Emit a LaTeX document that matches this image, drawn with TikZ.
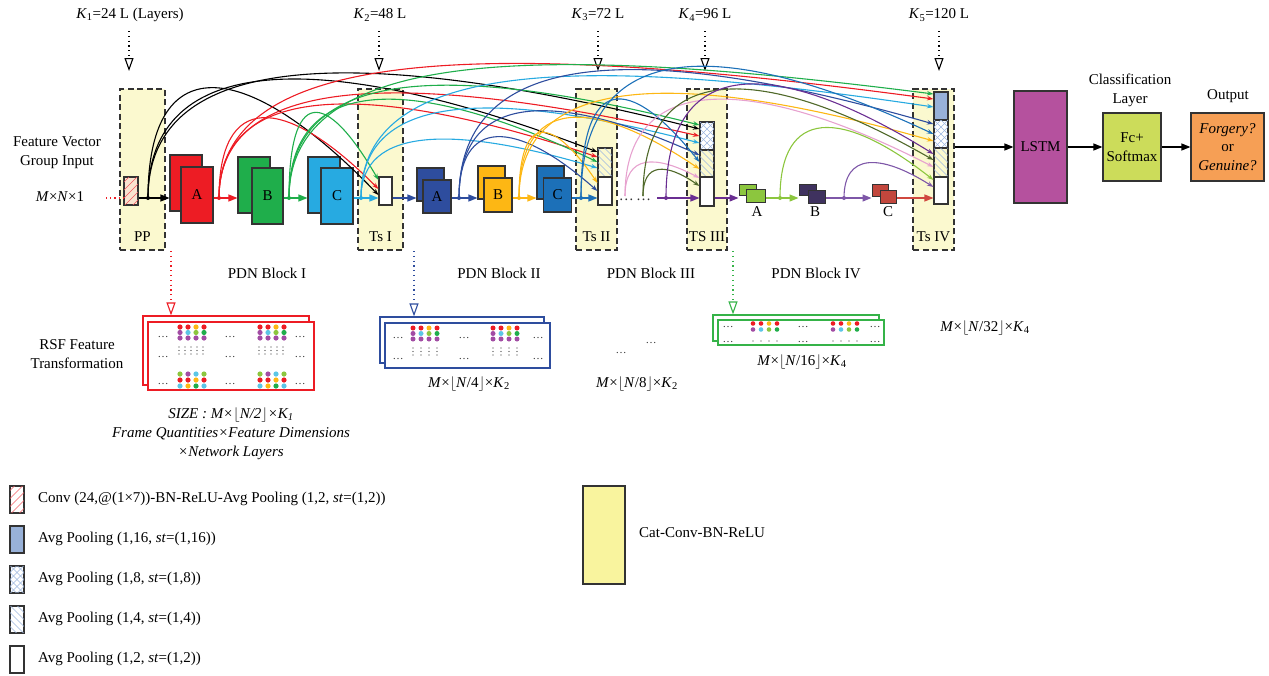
\documentclass[tikz,border=0pt]{standalone}
\usepackage{fontspec}
\setmainfont{Liberation Serif}
\usetikzlibrary{arrows.meta,calc}
\definecolor{cOut}{HTML}{333333}
\definecolor{cRed}{HTML}{ED1C24}
\definecolor{cGreen}{HTML}{1FAE4B}
\definecolor{cCyan}{HTML}{27AAE1}
\definecolor{cDBlue}{HTML}{2E4D9E}
\definecolor{cYel}{HTML}{FDB714}
\definecolor{cBlue}{HTML}{1C70B8}
\definecolor{cPurp}{HTML}{6A2E92}
\definecolor{cPink}{HTML}{E7A2CF}
\definecolor{cDGreen}{HTML}{50692A}
\definecolor{cLGreen}{HTML}{8CC63E}
\definecolor{cIVB}{HTML}{3F325F}
\definecolor{cIVC}{HTML}{C2473D}
\definecolor{cBrick}{HTML}{D0483F}
\definecolor{cLSTM}{HTML}{B5519E}
\definecolor{cFc}{HTML}{CCDC5A}
\definecolor{cOutp}{HTML}{F69F55}
\definecolor{cTs}{HTML}{FBF9CF}
\definecolor{cCat}{HTML}{F9F49E}
\definecolor{cP16}{HTML}{98B1D8}
\definecolor{cHatch}{HTML}{9DB7E0}
\definecolor{cDotP}{HTML}{A24CA4}
\definecolor{cDotC}{HTML}{5CC6E6}
\definecolor{cIVPurp}{HTML}{7E57A8}
\definecolor{cPPr}{HTML}{F9E3CF}
\newcounter{ed}
\newcommand{\edots}[2]{\stepcounter{ed}\node[edf] (ed\arabic{ed}) at (#1,#2) {…};}
\newcommand{\dcurve}[7]{%
  \pgfmathsetmacro{\dcH}{(#5-(198+#4)/8)/0.75}%
  \pgfmathsetmacro{\dcX}{#6+0.4*(#7-#6)}%
  \draw[skipc,#1] (#2) .. controls (#6,\dcH) and (\dcX,\dcH) .. (#3.west |- 0,#4);}
\newcommand{\hne}[2]{\begin{scope}\clip (#1.south west) rectangle (#1.north east);
  \foreach \k in {-48,-40,...,48}{\draw[#2,line width=0.6pt] ($(#1.center)+(\k-25,25)$) -- ++(50,-50);}\end{scope}
  \draw[cOut,line width=1.1pt] (#1.south west) rectangle (#1.north east);}
\newcommand{\hnw}[1]{\begin{scope}\clip (#1.south west) rectangle (#1.north east);
  \foreach \k in {-49,-42,...,49}{\draw[cHatch,line width=0.6pt] ($(#1.center)+(\k-25,-25)$) -- ++(50,50);}\end{scope}
  \draw[cOut,line width=1.1pt] (#1.south west) rectangle (#1.north east);}
\newcommand{\hx}[1]{\begin{scope}\clip (#1.south west) rectangle (#1.north east);
  \foreach \k in {-49,-42,...,49}{\draw[cHatch,line width=0.5pt] ($(#1.center)+(\k-25,-25)$) -- ++(50,50);
  \draw[cHatch,line width=0.5pt] ($(#1.center)+(\k-25,25)$) -- ++(50,-50);}\end{scope}
  \draw[cOut,line width=1.1pt] (#1.south west) rectangle (#1.north east);}
\newcommand{\drow}[7]{\fill[#4] (#1,#2) circle (#3pt);\fill[#5] ({#1+8},#2) circle (#3pt);
  \fill[#6] ({#1+16},#2) circle (#3pt);\fill[#7] ({#1+24},#2) circle (#3pt);}
\newcommand{\vcol}[2]{\foreach \j in {0,3.5,7}{\fill[cOut] (#1,{#2+\j}) circle (0.7pt);}}
\begin{document}
\begin{tikzpicture}[x=1pt,y=-1pt,
  every node/.style={inner sep=0pt},
  font=\fontsize{15}{19}\selectfont,
  edf/.style={font=\fontsize{11}{11}\selectfont, text=cOut},
  tsbox/.style={draw=cOut, fill=cTs, line width=1.2pt, dash pattern=on 6pt off 3.5pt, minimum height=161},
  blk/.style={draw=cOut, line width=1.1pt, minimum width=32, minimum height=56},
  sblk/.style={draw=cOut, line width=1pt},
  prect/.style={draw=cOut, line width=1.1pt, fill=white, minimum width=14, minimum height=28},
  bigbox/.style={draw=cOut, line width=1.2pt, align=center},
  fbox/.style={line width=1.2pt, fill=white},
  mainar/.style={line width=1.2pt, -{Triangle[length=9pt,width=7pt]}},
  skipc/.style={line width=1.1pt, -{Stealth[length=6.5pt,width=4.5pt]}},
  kar/.style={line width=1.2pt, dash pattern=on 1.2pt off 3.6pt, -{Triangle[open,length=13pt,width=9pt,line width=1.1pt]}},
  dropar/.style={line width=1.2pt, dash pattern=on 1.2pt off 3.6pt, -{Triangle[open,length=13pt,width=9pt,line width=1.1pt]}}]
\useasboundingbox (0,0) rectangle (1269,675);

% ---- top K labels
\node (k1) at (130,15) {\textit{K}\textsubscript{1}=24 L (Layers)};
\node (k2) at (380,15) {\textit{K}\textsubscript{2}=48 L};
\node (k3) at (598,15) {\textit{K}\textsubscript{3}=72 L};
\node (k4) at (705,15) {\textit{K}\textsubscript{4}=96 L};
\node (k5) at (939,15) {\textit{K}\textsubscript{5}=120 L};
\foreach \n/\x in {1/129,2/379,3/598,4/705,5/939}{
  \coordinate (k\n s) at (\x,31); \coordinate (k\n e) at (\x,71);
  \draw[kar] (k\n s) -- (k\n e);}

% ---- Ts boxes
\node[tsbox, minimum width=45] (pp) at (142.5,169.5) {};
\node[tsbox, minimum width=45] (ts1) at (380.5,169.5) {};
\node[tsbox, minimum width=41] (ts2) at (596.5,169.5) {};
\node[tsbox, minimum width=40] (ts3) at (707,169.5) {};
\node[tsbox, minimum width=41] (ts4) at (933.5,169.5) {};
\node (ppl) at (142.5,237) {PP};
\node (ts1l) at (380.5,237) {Ts I};
\node (ts2l) at (596.5,237) {Ts II};
\node (ts3l) at (707,237) {TS III};
\node (ts4l) at (933.5,237) {Ts IV};

% ---- blocks
\node[blk, fill=cRed] (IAb) at (186,183) {};
\node[blk, fill=cRed] (IAf) at (197,195) {A};
\node[blk, fill=cGreen] (IBb) at (254,185) {};
\node[blk, fill=cGreen, minimum width=31] (IBf) at (267.5,196) {B};
\node[blk, fill=cCyan] (ICb) at (324,185) {};
\node[blk, fill=cCyan] (ICf) at (337,196) {C};
\node[blk, fill=cDBlue, minimum width=27, minimum height=33] (IIAb) at (430.5,184.5) {};
\node[blk, fill=cDBlue, minimum width=28, minimum height=33] (IIAf) at (437,196.5) {A};
\node[blk, fill=cYel, minimum width=27, minimum height=33] (IIBb) at (491.5,182.5) {};
\node[blk, fill=cYel, minimum width=28, minimum height=34] (IIBf) at (498,195) {B};
\node[blk, fill=cBlue, minimum width=27, minimum height=33] (IICb) at (550.5,182.5) {};
\node[blk, fill=cBlue, minimum width=28, minimum height=34] (IICf) at (557.5,195) {C};
\node[sblk, fill=cLGreen, minimum width=17, minimum height=11] (IVAb) at (747.5,189.5) {};
\node[sblk, fill=cLGreen, minimum width=19, minimum height=13] (IVAf) at (755.5,195.5) {};
\node[sblk, fill=cIVB, minimum width=17, minimum height=11] (IVBb) at (807.5,189.5) {};
\node[sblk, fill=cIVB, minimum width=17, minimum height=13] (IVBf) at (816.5,196.5) {};
\node[sblk, fill=cIVC, minimum width=16, minimum height=12] (IVCb) at (880,190) {};
\node[sblk, fill=cIVC, minimum width=16, minimum height=13] (IVCf) at (888,196.5) {};
\node (IVAl) at (757,212) {A};
\node (IVBl) at (815,212) {B};
\node (IVCl) at (888,212) {C};

% ---- pooling rects
\node[prect, fill=cPPr] (ppr) at (131,191) {}; \hne{ppr}{cRed!75}
\node[prect, minimum width=13] (t1w) at (385.5,191) {};
\node[prect, fill=cTs, minimum height=29] (t2h) at (605,162.5) {}; \hnw{t2h}
\node[prect] (t2w) at (605,191) {};
\node[prect] (t3c) at (707,136) {}; \hx{t3c}
\node[prect, fill=cTs, minimum height=27] (t3h) at (707,163.5) {}; \hnw{t3h}
\node[prect, minimum height=29] (t3w) at (707,191.5) {};
\node[prect, fill=cP16] (t4a) at (941,106) {};
\node[prect] (t4c) at (941,134) {}; \hx{t4c}
\node[prect, fill=cTs, minimum height=29] (t4h) at (941,162.5) {}; \hnw{t4h}
\node[prect, minimum height=27] (t4w) at (941,190.5) {};

% ---- right part
\node[bigbox, fill=cLSTM, minimum width=53, minimum height=112] (LSTM) at (1040.5,147) {LSTM};
\node[bigbox, fill=cFc, minimum width=58, minimum height=68] (Fc) at (1132,147) {Fc+\\Softmax};
\node[bigbox, fill=cOutp, minimum width=73, minimum height=68, font=\fontsize{15}{18.5}\selectfont] (Outp) at (1227.5,147) {\textit{Forgery?}\\or\\\textit{Genuine?}};
\node[align=center] (clsl) at (1130,90.5) {Classification\\Layer};
\node (outl) at (1228,96) {Output};

% ---- left labels
\node[align=center] (fvl) at (57,153) {Feature Vector\\Group Input};
\node (mn1) at (60,197) {\textit{M}×\textit{N}×1};

% ---- main line
\coordinate (y198) at (0,198);
\coordinate (inp) at (106,198);
\draw[cRed, line width=1.2pt, dash pattern=on 1.2pt off 3pt] (inp) -- (ppr.west |- y198);
\draw[mainar] (ppr.east |- y198) -- (IAb.west |- y198);
\draw[mainar, cRed] (IAf.east |- y198) -- (IBb.west |- y198);
\draw[mainar, cGreen] (IBf.east |- y198) -- (ICb.west |- y198);
\draw[mainar, cCyan] (ICf.east |- y198) -- (t1w.west |- y198);
\draw[mainar, cDBlue] (t1w.east |- y198) -- (IIAb.west |- y198);
\draw[mainar, cDBlue] (IIAf.east |- y198) -- (IIBb.west |- y198);
\draw[mainar, cYel] (IIBf.east |- y198) -- (IICb.west |- y198);
\draw[mainar, cBlue] (IICf.east |- y198) -- (t2w.west |- y198);
\node[text=cOut] (dots3) at (635,200) {…\,…};
\coordinate (p3s) at (657,198);
\draw[mainar, cPurp] (p3s) -- (t3w.west |- y198);
\draw[mainar, cPurp] (t3w.east |- y198) -- (IVAb.west |- y198);
\draw[mainar, cLGreen] (IVAf.east |- y198) -- (IVBb.west |- y198);
\draw[mainar, cIVPurp] (IVBf.east |- y198) -- (IVCb.west |- y198);
\draw[mainar, cBrick] (IVCf.east |- y198) -- (t4w.west |- y198);
\draw[mainar] (ts4.east |- LSTM.west) -- (LSTM.west);
\draw[mainar] (LSTM.east |- Fc.west) -- (Fc.west);
\draw[mainar] (Fc.east) -- (Outp.west);

% ---- branch points
\coordinate (s0) at (148,198);
\coordinate (s1) at (219,198);
\coordinate (s2) at (289,198);
\coordinate (s3) at (361,198);
\coordinate (s4) at (459,198);
\coordinate (s5) at (519,198);
\coordinate (s6) at (581,198);
\coordinate (s7) at (625,196);
\coordinate (s8) at (643,196);
\coordinate (s9) at (666,198);
\coordinate (s10) at (780,198);
\coordinate (s11) at (844,198);

% ---- dense connections
\dcurve{black}{s0}{t1w}{195}{88}{148}{379}
\dcurve{black}{s0}{t2h}{152}{80}{148}{598}
\dcurve{black}{s0}{t3c}{129}{75}{148}{700}
\dcurve{cRed}{s1}{t1w}{189}{118}{219}{379}
\dcurve{cRed}{s1}{t2h}{157}{105}{219}{598}
\dcurve{cRed}{s1}{t3c}{136}{95}{219}{700}
\dcurve{cRed}{s1}{t4a}{99}{68}{219}{934}
\dcurve{cGreen}{s2}{t1w}{180}{113}{289}{379}
\dcurve{cGreen}{s2}{t2h}{162}{100}{289}{598}
\dcurve{cGreen}{s2}{t3c}{125}{88}{289}{700}
\dcurve{cGreen}{s2}{t4a}{94}{70}{289}{934}
\dcurve{cCyan}{s3}{t2h}{168}{140}{361}{598}
\dcurve{cCyan}{s3}{t3c}{143}{110}{361}{700}
\dcurve{cCyan}{s3}{t4a}{107}{80}{361}{934}
\dcurve{cDBlue}{s4}{t2w}{191}{137}{459}{598}
\dcurve{cDBlue}{s4}{t3h}{155}{112}{459}{700}
\dcurve{cDBlue}{s4}{t4c}{124}{72}{459}{934}
\dcurve{cYel}{s5}{t2w}{183}{133}{519}{598}
\dcurve{cYel}{s5}{t3h}{169}{118}{519}{700}
\dcurve{cYel}{s5}{t4c}{141}{95}{519}{934}
\dcurve{cBlue}{s6}{t3h}{162}{100}{581}{700}
\dcurve{cBlue}{s6}{t4c}{134}{68}{581}{934}
\dcurve{cPink}{s7}{t3w}{178}{163}{625}{700}
\dcurve{cPink}{s7}{t4h}{167}{100}{625}{934}
\dcurve{cDGreen}{s8}{t3w}{186}{170}{643}{700}
\dcurve{cDGreen}{s8}{t4h}{160}{90}{643}{934}
\dcurve{cPurp}{s9}{t4h}{154}{85}{666}{934}
\dcurve{cLGreen}{s10}{t4w}{180}{128}{780}{934}
\dcurve{cIVPurp}{s11}{t4w}{187}{163}{844}{934}
\foreach \s/\c in {s0/black,s1/cRed,s2/cGreen,s3/cCyan,s4/cDBlue,s5/cYel,s6/cBlue,s9/cPurp,s10/cLGreen,s11/cIVPurp}
  \fill[\c] (\s) circle (2pt);

% ---- block labels
\node (pdn1) at (267,273) {PDN Block I};
\node (pdn2) at (499,273) {PDN Block II};
\node (pdn3) at (651,273) {PDN Block III};
\node (pdn4) at (816,273) {PDN Block IV};

% ---- RSF feature box
\node[fbox, draw=cRed, minimum width=166, minimum height=69] (rsfb) at (226,350.5) {};
\node[fbox, draw=cRed, minimum width=166, minimum height=68] (rsff) at (231,356) {};
\coordinate (d1) at (171,251);
\draw[dropar, cRed] (d1) -- (rsfb.north -| d1);
\foreach \cx in {180,260}{
  \drow{\cx}{327}{2.6}{cRed}{cRed}{cYel}{cRed}
  \drow{\cx}{332.5}{2.6}{cDotP}{cDotC}{cLGreen}{cGreen}
  \drow{\cx}{338}{2.6}{cDotP}{cDotP}{cDotP}{cDotP}
  \drow{\cx}{374}{2.6}{cLGreen}{cDotP}{cDotC}{cLGreen}
  \drow{\cx}{380}{2.6}{cRed}{cRed}{cYel}{cRed}
  \drow{\cx}{386}{2.6}{cDotC}{cYel}{cGreen}{cDotC}
  \foreach \v in {0,6,12,18,24}{\vcol{\cx-1+\v}{347}}}
\foreach \ex in {163,230,300}{\foreach \ey in {337,357,384}{\edots{\ex}{\ey}}}
\node[align=center, font=\fontsize{15}{19}\selectfont\itshape] (sizel) at (231,434)
  {SIZE : M×$\lfloor$N/2$\rfloor$×K\textsubscript{1}\\Frame Quantities×Feature Dimensions\\×Network Layers};
\node[align=center] (rsfl) at (77,354) {RSF Feature\\Transformation};

% ---- block II feature box
\node[fbox, draw=cDBlue, minimum width=164, minimum height=46] (f2b) at (462,340) {};
\node[fbox, draw=cDBlue, minimum width=165, minimum height=45] (f2f) at (467.5,345.5) {};
\coordinate (d2) at (414,251);
\draw[dropar, cDBlue] (d2) -- (f2b.north -| d2);
\foreach \cx in {413,493}{
  \drow{\cx}{328}{2.5}{cRed}{cRed}{cYel}{cRed}
  \drow{\cx}{333.5}{2.5}{cDotP}{cDotC}{cLGreen}{cGreen}
  \drow{\cx}{339}{2.5}{cDotP}{cDotP}{cDotP}{cDotP}
  \foreach \v in {0,8,16,24}{\vcol{\cx+\v}{348}}}
\foreach \ex in {398,464,538}{\foreach \ey in {338,359}{\edots{\ex}{\ey}}}
\node (f2l) at (469,384) {\textit{M}×$\lfloor$\textit{N}/4$\rfloor$×\textit{K}\textsubscript{2}};

% ---- block III
\edots{621}{353}
\edots{651}{343}
\node (f3l) at (637,384) {\textit{M}×$\lfloor$\textit{N}/8$\rfloor$×\textit{K}\textsubscript{2}};

% ---- block IV feature box
\node[fbox, draw=cGreen!80!cLGreen, minimum width=166, minimum height=26] (f4b) at (796,328) {};
\node[fbox, draw=cGreen!80!cLGreen, minimum width=166, minimum height=25] (f4f) at (801,332.5) {};
\coordinate (d4) at (733,251);
\draw[dropar, cGreen!80!cLGreen] (d4) -- (f4b.north -| d4);
\foreach \cx in {753,833}{
  \drow{\cx}{323.5}{2.3}{cRed}{cRed}{cYel}{cRed}
  \drow{\cx}{329.5}{2.3}{cDotP}{cDotC}{cLGreen}{cGreen}
  \foreach \v in {0,8,16,24}{\fill[cOut] (\cx+\v,341) circle (0.7pt);}}
\foreach \ex in {728,803,875}{\foreach \ey in {327,342}{\edots{\ex}{\ey}}}
\node (f4l) at (802,362) {\textit{M}×$\lfloor$\textit{N}/16$\rfloor$×\textit{K}\textsubscript{4}};
\node (f5l) at (985,328) {\textit{M}×$\lfloor$\textit{N}/32$\rfloor$×\textit{K}\textsubscript{4}};

% ---- legend
\node[prect, minimum height=27] (lg1) at (17,499.5) {}; \hne{lg1}{cRed!70}
\node[anchor=west] (lg1t) at (38,499) {Conv (24,@(1×7))-BN-ReLU-Avg Pooling (1,2, \textit{st}=(1,2))};
\node[prect, fill=cP16, minimum height=27] (lg2) at (17,539.5) {};
\node[anchor=west] (lg2t) at (38,539) {Avg Pooling (1,16, \textit{st}=(1,16))};
\node[prect, minimum height=27] (lg3) at (17,579.5) {}; \hx{lg3}
\node[anchor=west] (lg3t) at (38,579) {Avg Pooling (1,8, \textit{st}=(1,8))};
\node[prect, minimum height=27] (lg4) at (17,619.5) {}; \hnw{lg4}
\node[anchor=west] (lg4t) at (38,619) {Avg Pooling (1,4, \textit{st}=(1,4))};
\node[prect, minimum height=27] (lg5) at (17,659.5) {};
\node[anchor=west] (lg5t) at (38,659) {Avg Pooling (1,2, \textit{st}=(1,2))};
\node[draw=cOut, line width=1.2pt, fill=cCat, minimum width=42, minimum height=98] (lgc) at (604,535) {};
\node[anchor=west] (lgct) at (639,533) {Cat-Conv-BN-ReLU};
\end{tikzpicture}
\end{document}
